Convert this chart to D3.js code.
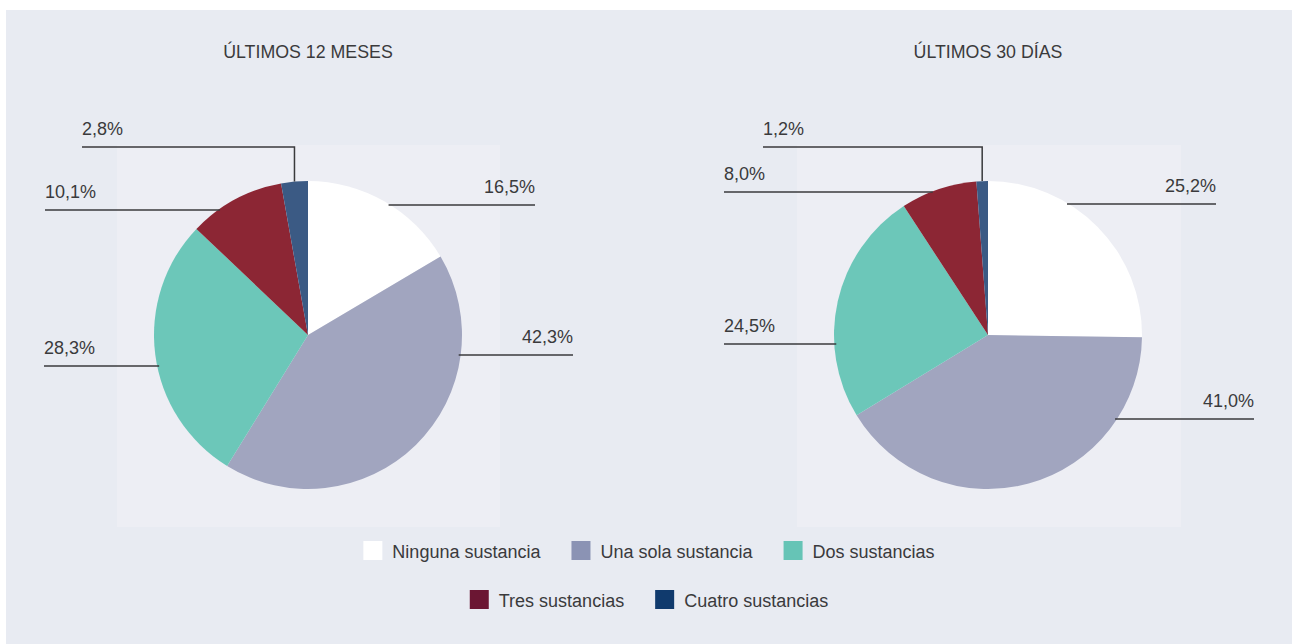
<!DOCTYPE html>
<html>
<head>
<meta charset="utf-8">
<script src="https://cdn.jsdelivr.net/npm/d3@7"></script>
<style>
  html, body { margin: 0; padding: 0; background: #ffffff; }
  svg { display: block; }
  text { font-family: "Liberation Sans", Arial, Helvetica, sans-serif; fill: #3a3a3c; }
</style>
</head>
<body>
<svg id="chart" width="1292" height="644"></svg>
<script>
// ---- data ----
const categories = ["Ninguna sustancia", "Una sola sustancia", "Dos sustancias", "Tres sustancias", "Cuatro sustancias"];
const valores12Meses = [16.5, 42.3, 28.3, 10.1, 2.8];
const valores30Dias = [25.2, 41.0, 24.5, 8.0, 1.2];
const titulos = ["ÚLTIMOS 12 MESES", "ÚLTIMOS 30 DÍAS"];
const etiquetas12Meses = ["16,5%", "42,3%", "28,3%", "10,1%", "2,8%"];
const etiquetas30Dias = ["25,2%", "41,0%", "24,5%", "8,0%", "1,2%"];

// ---- styles / layout ----
const sliceColors = ["#ffffff", "#a1a5bf", "#6cc7b9", "#8c2634", "#3b5a84"];
const legendColors = ["#ffffff", "#8b93b4", "#66c4b6", "#6b1633", "#103a6d"];
const radius = 154;
const charts = [
  { title: titulos[0], values: valores12Meses, labels: etiquetas12Meses, cx: 308, cy: 335,
    panel: [117, 145, 383, 382],
    layout: [
      { side: "right", y: 205, xEnd: 535 },
      { side: "right", y: 355, xEnd: 573 },
      { side: "left",  y: 366, xEnd: 44 },
      { side: "left",  y: 210, xEnd: 45 },
      { side: "elbow", y: 147, xEnd: 82 }
    ] },
  { title: titulos[1], values: valores30Dias, labels: etiquetas30Dias, cx: 988, cy: 335,
    panel: [797, 145, 384, 382],
    layout: [
      { side: "right", y: 204, xEnd: 1216 },
      { side: "right", y: 419, xEnd: 1254 },
      { side: "left",  y: 344, xEnd: 724 },
      { side: "left",  y: 192, xEnd: 724 },
      { side: "elbow", y: 147, xEnd: 763 }
    ] }
];

const svg = d3.select("#chart");
svg.append("rect").attr("x", 6).attr("y", 10).attr("width", 1286).attr("height", 634).attr("fill", "#e8ebf2");

const color = d3.scaleOrdinal().domain(categories).range(sliceColors);
const legendColor = d3.scaleOrdinal().domain(categories).range(legendColors);

const pie = d3.pie().sort(null).value(d => d.value).startAngle(0).endAngle(2 * Math.PI);
const arc = d3.arc().innerRadius(0).outerRadius(radius);

charts.forEach(ch => {
  svg.append("rect").attr("x", ch.panel[0]).attr("y", ch.panel[1])
    .attr("width", ch.panel[2]).attr("height", ch.panel[3]).attr("fill", "#edeef4");

  svg.append("text").attr("x", ch.cx).attr("y", 58).attr("text-anchor", "middle")
    .style("font-size", "17.8px").text(ch.title);

  const data = categories.map((c, i) => ({ cat: c, value: ch.values[i], label: ch.labels[i], lay: ch.layout[i] }));
  const arcs = pie(data);
  const g = svg.append("g").attr("transform", `translate(${ch.cx},${ch.cy})`);
  g.selectAll("path").data(arcs).join("path")
    .attr("d", arc).attr("fill", d => color(d.data.cat));

  // leader lines and labels
  arcs.forEach(a => {
    const L = a.data.lay;
    let pts;
    if (L.side === "elbow") {
      const mid = (a.startAngle + a.endAngle) / 2;
      const ax = ch.cx + radius * Math.sin(mid);
      const ay = ch.cy - radius * Math.cos(mid);
      pts = [[ax, ay], [ax, L.y], [L.xEnd, L.y]];
    } else {
      const dy = L.y - ch.cy;
      const dx = Math.sqrt(Math.max(0, radius * radius - dy * dy));
      const ax = L.side === "right" ? ch.cx + dx - 2 : ch.cx - dx + 2;
      pts = [[ax, L.y], [L.xEnd, L.y]];
    }
    svg.append("path").attr("d", d3.line()(pts))
      .attr("fill", "none").attr("stroke", "#3a3a3c").attr("stroke-width", 1.5);
    svg.append("text")
      .attr("x", L.xEnd).attr("y", L.y - 12)
      .attr("text-anchor", L.side === "right" ? "end" : "start")
      .style("font-size", "18px").text(a.data.label);
  });
});

// ---- legend ----
const legendRows = [[0, 1, 2], [3, 4]];
const rowY = [550, 599];
const centerX = 649;
legendRows.forEach((row, ri) => {
  const lg = svg.append("g");
  let x = 0;
  row.forEach(idx => {
    const item = lg.append("g").attr("transform", `translate(${x},0)`);
    item.append("rect").attr("x", 0).attr("y", -9).attr("width", 19).attr("height", 19)
      .attr("fill", legendColor(categories[idx]));
    const t = item.append("text").attr("x", 29).attr("y", 8)
      .style("font-size", "18px").text(categories[idx]);
    x += 29 + t.node().getComputedTextLength() + 31;
  });
  const total = x - 31;
  lg.attr("transform", `translate(${centerX - total / 2},${rowY[ri]})`);
});
</script>
</body>
</html>
